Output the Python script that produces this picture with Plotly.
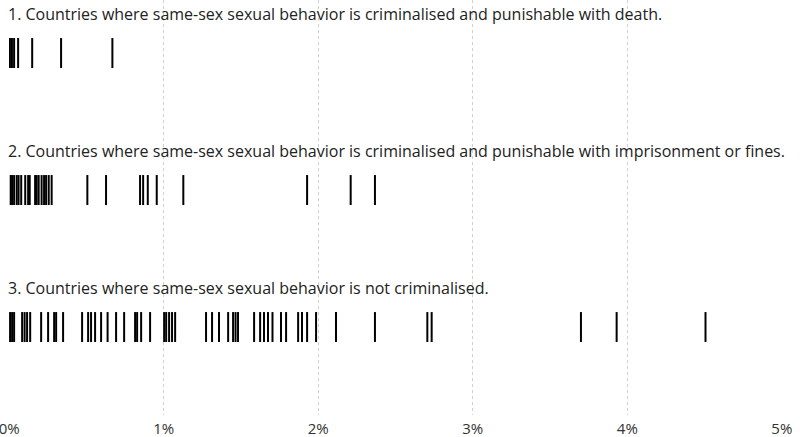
import plotly.graph_objects as go

# share values (%) per country
death = [0.005, 0.018, 0.032, 0.058, 0.149, 0.336, 0.668]

imprisonment = [0.010, 0.019, 0.032, 0.049, 0.061, 0.078, 0.104, 0.123, 0.133,
                0.168, 0.178, 0.191, 0.210, 0.226, 0.239, 0.256, 0.275,
                0.506, 0.627, 0.847, 0.867, 0.897, 0.955, 1.127,
                1.928, 2.210, 2.367]

not_criminalised = [0.006, 0.019, 0.032, 0.084, 0.100, 0.116, 0.136, 0.207,
                    0.252, 0.291, 0.304, 0.349, 0.472, 0.511, 0.530, 0.556,
                    0.595, 0.637, 0.692, 0.744, 0.815, 0.828, 0.854, 0.912,
                    1.003, 1.016, 1.035, 1.054, 1.074, 1.274, 1.313, 1.358,
                    1.417, 1.449, 1.465, 1.481, 1.585, 1.624, 1.649, 1.675,
                    1.704, 1.759, 1.792, 1.870, 1.895, 1.928, 1.986, 2.115,
                    2.367, 2.706, 2.734, 3.700, 3.931, 4.506]

titles = [
    "1. Countries where same-sex sexual behavior is criminalised and punishable with death.",
    "2. Countries where same-sex sexual behavior is criminalised and punishable with imprisonment or fines.",
    "3. Countries where same-sex sexual behavior is not criminalised.",
]
groups = [death, imprisonment, not_criminalised]

tick_vals = [0, 1, 2, 3, 4, 5]
tick_text = ["0%", "1%", "2%", "3%", "4%", "5%"]

FONT = "Open Sans"

fig = go.Figure()
for i, vals in enumerate(groups):
    fig.add_trace(go.Scatter(
        x=vals, y=[i] * len(vals), mode="markers",
        # line-ns is drawn 1.4x its size, so 21.4 gives ~30px ticks
        marker=dict(symbol="line-ns", size=21.4, line=dict(width=2, color="black")),
        showlegend=False, hoverinfo="x",
    ))
    fig.add_annotation(text=titles[i], x=0, xref="paper", xanchor="left", xshift=-3,
                       y=i - 0.285, yref="y", yanchor="middle", showarrow=False,
                       font=dict(family=FONT, size=16, color="#222"))

fig.update_layout(
    width=800, height=437,
    margin=dict(l=9, r=18, t=0, b=22, autoexpand=False),
    paper_bgcolor="white", plot_bgcolor="white",
    xaxis=dict(range=[-0.001, 5.001], tickvals=tick_vals, ticktext=tick_text,
               showgrid=True, gridcolor="#d0d0d0", griddash="dot", gridwidth=1,
               zeroline=False, showline=False, ticks="", automargin=False,
               ticklabeloverflow="allow", ticklabelstandoff=3,
               tickfont=dict(family=FONT, size=15, color="#333")),
    yaxis=dict(range=[2.642, -0.387], showgrid=False, zeroline=False,
               showticklabels=False),
)

fig.write_html("out.html", config={"displayModeBar": False},
               post_script="document.body.style.margin='0';")
